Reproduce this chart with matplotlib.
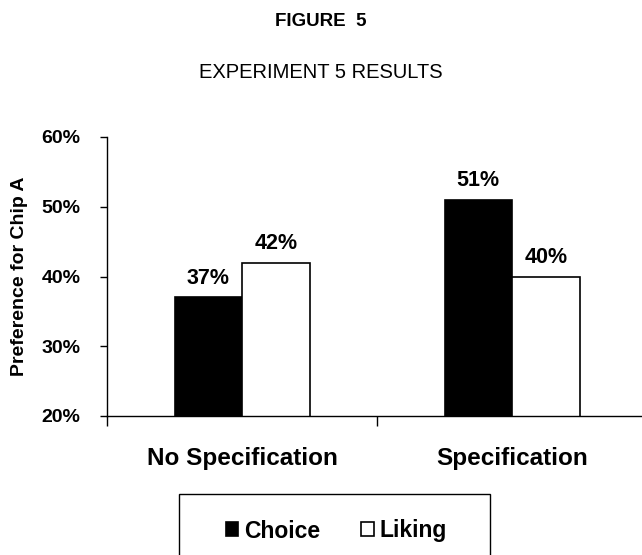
import numpy as np
import matplotlib.pyplot as plt
from matplotlib.patches import Rectangle
from matplotlib.ticker import PercentFormatter

plt.rcParams['font.family'] = ['Liberation Sans', 'DejaVu Sans']

# Dane z eksperymentu 5
conditions = ["No Specification", "Specification"]
choice = [37, 51]
liking = [42, 40]
series = ["Choice", "Liking"]

fig = plt.figure(figsize=(6.42, 5.55), dpi=100)
ax = fig.add_axes([107 / 642, 139 / 555, 540 / 642, 279 / 555])

x = np.arange(len(conditions))
w = 0.25
b1 = ax.bar(x - w / 2, choice, w, color="black", edgecolor="black", linewidth=1.2, label=series[0])
b2 = ax.bar(x + w / 2, liking, w, color="white", edgecolor="black", linewidth=1.2, label=series[1])

# Etykiety wartości nad słupkami
for bars, vals in ((b1, choice), (b2, liking)):
    for bar, v in zip(bars, vals):
        ax.annotate(f"{v}%", (bar.get_x() + bar.get_width() / 2, v),
                    xytext=(0, 6), textcoords="offset points",
                    ha="center", va="bottom", fontsize=15.5, fontweight="bold")

ax.set_ylim(20, 60)
ax.set_yticks([20, 30, 40, 50, 60])
ax.yaxis.set_major_formatter(PercentFormatter(decimals=0))
ax.set_xlim(-0.5, 1.5)
ax.set_xticks([-0.5, 0.5, 1.5])
ax.set_xticklabels([])
ax.set_xticks(x, minor=True)
ax.set_xticklabels(conditions, minor=True, fontsize=17.5, fontweight="bold")
ax.tick_params(axis="x", which="minor", length=0, pad=22)
ax.tick_params(axis="x", which="major", direction="out", length=7, width=1)
ax.tick_params(axis="y", direction="out", length=5, width=1, labelsize=14, pad=14)
for lab in ax.get_yticklabels():
    lab.set_fontweight("bold")

for s in ("top", "right"):
    ax.spines[s].set_visible(False)
ax.spines["left"].set_linewidth(1)
ax.spines["bottom"].set_linewidth(1)

ax.set_ylabel("Preference for Chip A", fontsize=14, fontweight="bold", labelpad=10)

fig.text(0.5, 1 - 22 / 555, "FIGURE  5", ha="center", va="center", fontsize=13.5, fontweight="bold")
fig.text(0.5, 1 - 72 / 555, "EXPERIMENT 5 RESULTS", ha="center", va="center", fontsize=14.5)

# Ramka legendy (dolna krawędź poza rysunkiem)
fig.patches.append(Rectangle((179 / 642, -0.05), 311 / 642, 0.05 + 1 - 494 / 555,
                             transform=fig.transFigure, fill=False, edgecolor="black", linewidth=1))
leg = fig.legend(handles=[b1, b2], loc="center", bbox_to_anchor=(0.524, 1 - 531 / 555),
                 ncol=2, frameon=False, borderpad=0, borderaxespad=0,
                 handlelength=0.55, handleheight=0.55, handletextpad=0.25, columnspacing=1.8,
                 prop={"weight": "bold", "size": 16.5})

fig.savefig("out.png", dpi=100)
